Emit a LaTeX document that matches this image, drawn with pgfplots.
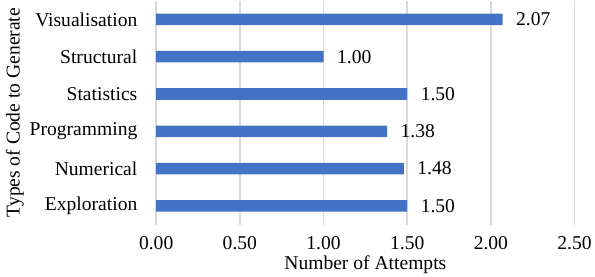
\documentclass[border=0pt]{standalone}
\usepackage{fontspec}
\setmainfont{Liberation Serif}
\usepackage{pgfplots}
\pgfplotsset{compat=1.18}
\definecolor{barblue}{HTML}{4472C4}
\definecolor{gridgray}{HTML}{D9D9D9}
\begin{document}
\newcommand{\chartfont}{\fontsize{19.5}{23}\selectfont}
\begin{tikzpicture}
\begin{axis}[
  scale only axis,
  width=417pt, height=223pt,
  xbar, bar width=11.5pt,
  xmin=0, xmax=2.5,
  ymin=-0.5, ymax=5.5,
  axis line style={draw=none},
  xtick={0,0.5,1,1.5,2,2.5},
  xticklabel style={/pgf/number format/.cd,fixed,fixed zerofill,precision=2},
  ytick={0,1,2,3,4,5},
  yticklabels={Exploration,Numerical,Programming,Statistics,Structural,Visualisation},
  /pgf/number format/assume math mode=true,
  tick label style={font=\chartfont},
  xmajorgrids, major grid style={gridgray, line width=1.6pt},
  ymajorgrids=false,
  tick style={draw=none},
  xticklabel shift=8pt,
  yticklabel shift=11pt,
  xlabel={Number of Attempts},
  ylabel={Types of Code to Generate},
  label style={font=\chartfont},
  xlabel style={yshift=1pt},
  ylabel style={yshift=-1pt},
  nodes near coords,
  nodes near coords style={font=\chartfont, anchor=west, xshift=10pt,
    /pgf/number format/.cd,fixed,fixed zerofill,precision=2},
  point meta=explicit,
]
\addplot[fill=barblue, draw=none] coordinates {
  (1.50,0) [1.50]
  (1.48,1) [1.48]
  (1.38,2) [1.38]
  (1.50,3) [1.50]
  (1.00,4) [1.00]
  (2.07,5) [2.07]
};
\end{axis}
\end{tikzpicture}
\end{document}
